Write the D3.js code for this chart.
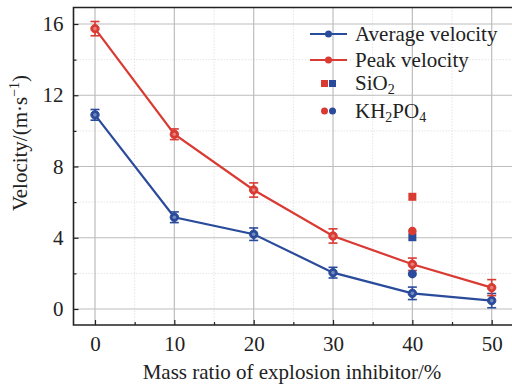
<!DOCTYPE html>
<html><head><meta charset="utf-8">
<script src="https://cdn.jsdelivr.net/npm/d3@7"></script>
<style>body{margin:0;background:#fff}svg{display:block;font-family:"Liberation Serif","Times New Roman",serif}</style>
</head><body><svg id="c" width="512" height="385"></svg>
<script>
const massRatio = [0, 10, 20, 30, 40, 50];
const avgVelocity = [10.9, 5.15, 4.2, 2.04, 0.88, 0.47];
const avgError = [0.3, 0.3, 0.35, 0.3, 0.35, 0.4];
const peakVelocity = [15.74, 9.81, 6.68, 4.1, 2.51, 1.2];
const peakError = [0.4, 0.3, 0.4, 0.4, 0.35, 0.45];
const sio2 = {x: 40, peak: 6.3, avg: 4.03};
const kh2po4 = {x: 40, peak: 4.38, avg: 1.97};
const xTicks = [0, 10, 20, 30, 40, 50];
const yTicks = [0, 4, 8, 12, 16];

const blue = "#2a4b9b", red = "#d93a32";
const svg = d3.select("#c");
const L = 73.5, T = 7.5, B = 325, R = 512;
const x = d3.scaleLinear().domain([0, 50]).range([95, 491.7]);
const y = d3.scaleLinear().domain([0, 16]).range([309, 24]);

// grid
const g = svg.append("g");
[5,15,25,35,45].forEach(v => g.append("line").attr("x1", x(v)).attr("x2", x(v)).attr("y1", T).attr("y2", B).attr("stroke", "#ddd").attr("stroke-dasharray", "1.5,1.5").attr("stroke-width", 0.8));
[2,6,10,14].forEach(v => g.append("line").attr("x1", L).attr("x2", R).attr("y1", y(v)).attr("y2", y(v)).attr("stroke", "#ddd").attr("stroke-dasharray", "1.5,1.5").attr("stroke-width", 0.8));
xTicks.forEach(v => g.append("line").attr("x1", x(v)).attr("x2", x(v)).attr("y1", T).attr("y2", B).attr("stroke", "#bdbdbd").attr("stroke-width", 1.2));
yTicks.forEach(v => g.append("line").attr("x1", L).attr("x2", R).attr("y1", y(v)).attr("y2", y(v)).attr("stroke", "#bdbdbd").attr("stroke-width", 1.2));

// axes
const xAxis = d3.axisBottom(x).tickValues(xTicks).tickSize(-5).tickPadding(11).tickFormat(d3.format("d"));
const xMinor = d3.axisBottom(x).tickValues([5,15,25,35,45]).tickSize(-3).tickFormat("");
const yAxis = d3.axisLeft(y).tickValues(yTicks).tickSize(-5).tickPadding(10).tickFormat(d3.format("d"));
const yMinor = d3.axisLeft(y).tickValues([2,6,10,14]).tickSize(-3).tickFormat("");
function styleAx(sel){ sel.select(".domain").remove(); sel.selectAll("line").attr("stroke","#222").attr("stroke-width",1.2); sel.selectAll("text").attr("font-size",21).attr("fill","#222").attr("font-family","Liberation Serif"); }
svg.append("g").attr("transform",`translate(0,${B})`).call(xAxis).call(styleAx);
svg.append("g").attr("transform",`translate(0,${B})`).call(xMinor).call(styleAx);
svg.append("g").attr("transform",`translate(${L},0)`).call(yAxis).call(styleAx);
svg.append("g").attr("transform",`translate(${L},0)`).call(yMinor).call(styleAx);
svg.append("path").attr("d",`M${R},${T}H${L}V${B}H${R}`).attr("fill","none").attr("stroke","#222").attr("stroke-width",1.6);

// series
function series(vals, errs, col){
  const line = d3.line().x((d,i)=>x(massRatio[i])).y(d=>y(d));
  svg.append("path").datum(vals).attr("d", line).attr("fill","none").attr("stroke",col).attr("stroke-width",2.2);
  const eg = svg.append("g").attr("stroke",col).attr("stroke-width",1.6);
  vals.forEach((v,i)=>{
    const cx = x(massRatio[i]);
    eg.append("line").attr("x1",cx).attr("x2",cx).attr("y1",y(v+errs[i])).attr("y2",y(v-errs[i]));
    eg.append("line").attr("x1",cx-4.5).attr("x2",cx+4.5).attr("y1",y(v+errs[i])).attr("y2",y(v+errs[i]));
    eg.append("line").attr("x1",cx-4.5).attr("x2",cx+4.5).attr("y1",y(v-errs[i])).attr("y2",y(v-errs[i]));
  });
  vals.forEach((v,i)=>{
    svg.append("circle").attr("cx",x(massRatio[i])).attr("cy",y(v)).attr("r",4.2).attr("fill",col).attr("stroke",col).attr("stroke-width",1);
    svg.append("circle").attr("cx",x(massRatio[i])).attr("cy",y(v)).attr("r",1.8).attr("fill","#fff").attr("opacity",0.35);
  });
}
series(avgVelocity, avgError, blue);
series(peakVelocity, peakError, red);

// SiO2 squares, KH2PO4 circles
svg.append("rect").attr("x",x(sio2.x)-4).attr("y",y(sio2.peak)-4).attr("width",8).attr("height",8).attr("fill",red);
svg.append("rect").attr("x",x(sio2.x)-4).attr("y",y(sio2.avg)-4).attr("width",8).attr("height",8).attr("fill",blue);
svg.append("circle").attr("cx",x(kh2po4.x)).attr("cy",y(kh2po4.peak)).attr("r",4.3).attr("fill",red);
svg.append("circle").attr("cx",x(kh2po4.x)).attr("cy",y(kh2po4.avg)).attr("r",4.5).attr("fill",blue);

// legend
const lg = svg.append("g").attr("font-size",21).attr("fill","#222");
[[34,"Average velocity",blue],[60,"Peak velocity",red]].forEach(([ly,t,c])=>{
  lg.append("line").attr("x1",310).attr("x2",347).attr("y1",ly).attr("y2",ly).attr("stroke",c).attr("stroke-width",2.2);
  lg.append("circle").attr("cx",328.5).attr("cy",ly).attr("r",3.5).attr("fill",c);
  lg.append("text").attr("x",355).attr("y",ly+7).text(t);
});
lg.append("rect").attr("x",321).attr("y",80).attr("width",7).attr("height",7).attr("fill",red);
lg.append("rect").attr("x",329).attr("y",80).attr("width",7).attr("height",7).attr("fill",blue);
const t1 = lg.append("text").attr("x",355).attr("y",90);
t1.append("tspan").text("SiO");
t1.append("tspan").attr("font-size",14).attr("dy",4).text("2");
lg.append("circle").attr("cx",324.5).attr("cy",111).attr("r",3.5).attr("fill",red);
lg.append("circle").attr("cx",332.5).attr("cy",111).attr("r",3.5).attr("fill",blue);
const t2 = lg.append("text").attr("x",355).attr("y",118);
t2.append("tspan").text("KH");
t2.append("tspan").attr("font-size",14).attr("dy",4).text("2");
t2.append("tspan").attr("dy",-4).text("PO");
t2.append("tspan").attr("font-size",14).attr("dy",4).text("4");

// axis titles
svg.append("text").attr("x",292).attr("y",379).attr("text-anchor","middle").attr("font-size",21).attr("fill","#222").text("Mass ratio of explosion inhibitor/%");
const yt = svg.append("text").attr("transform","translate(27,143) rotate(-90)").attr("text-anchor","middle").attr("font-size",21).attr("fill","#222");
yt.append("tspan").text("Velocity/(m·s");
yt.append("tspan").attr("font-size",14).attr("dy",-8).text("−1");
yt.append("tspan").attr("dy",8).text(")");
</script></body></html>
